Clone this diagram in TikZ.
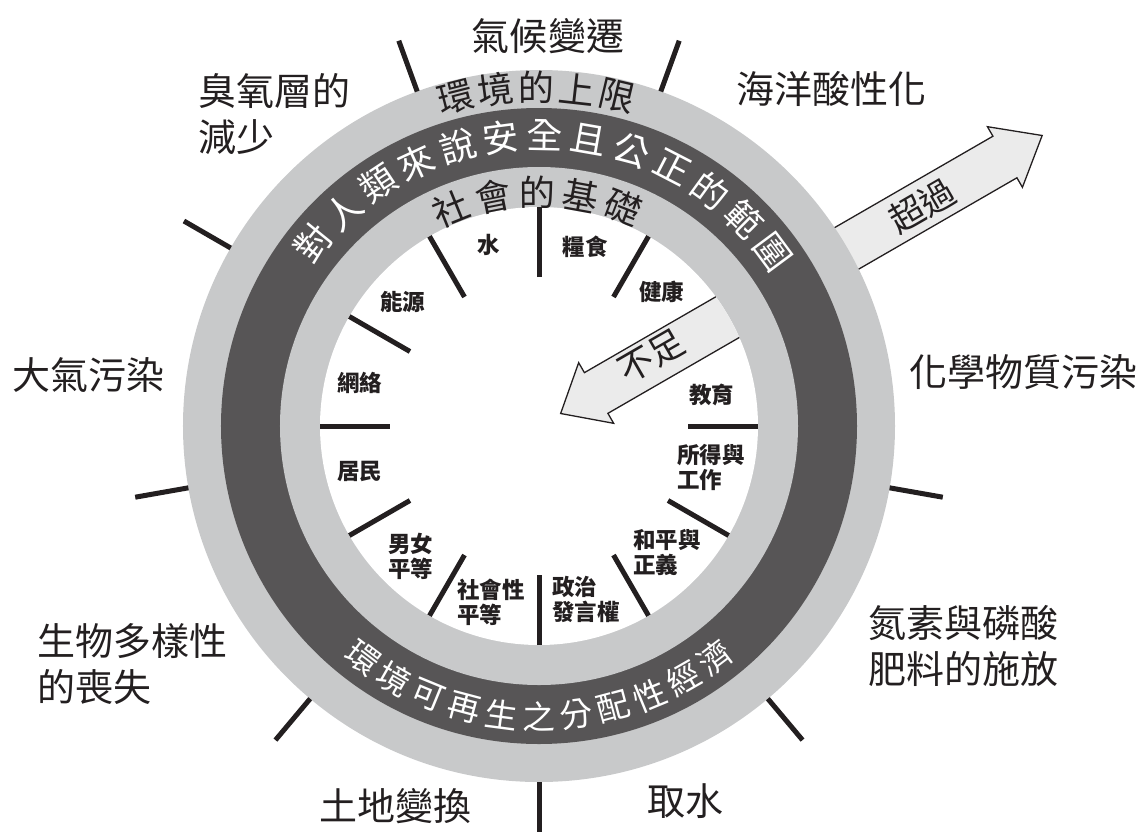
\documentclass[tikz,border=0pt]{standalone}
\usepackage{fontspec}
\newfontfamily\cjk{Noto Sans CJK TC}
\definecolor{ink}{HTML}{231F20}
\definecolor{ringlight}{HTML}{C8C9CA}
\definecolor{ringdark}{HTML}{575556}
\definecolor{arrowfill}{HTML}{EBEBEB}
\begin{document}
\begin{tikzpicture}[x=1pt,y=1pt,
  outerlbl/.style={font=\cjk\fontsize{38}{46}\selectfont, text=ink, inner sep=0pt, align=left},
  innerlbl/.style={font=\cjk\bfseries\fontsize{22.5}{25.5}\selectfont, text=ink, inner sep=0pt, align=left},
  tickline/.style={draw=ink, line width=5pt},
  ringtxt/.style={font=\cjk\fontsize{36}{36}\selectfont, inner sep=0pt},
  arrowtxt/.style={font=\cjk\fontsize{35}{35}\selectfont, text=ink, inner sep=0pt},
  bigarrow/.style={draw=ink, line width=1.3pt, fill=arrowfill, line join=miter},
]
\useasboundingbox (-539,-405) rectangle (603,426);
% exceed arrow (under the rings)
\begin{scope}[rotate=30]
  \draw[bigarrow] (330,24) -- (538,24) -- (538,35) -- (581,0) -- (538,-35) -- (538,-24) -- (330,-24) -- cycle;
  \node[arrowtxt, rotate=30] (over) at (442,-1) {超過};
\end{scope}
% rings
\fill[ringlight] (0,0) circle (356);
\fill[ringdark] (0,0) circle (318);
\fill[ringlight] (0,0) circle (259);
\fill[white] (0,0) circle (219);
% outer ticks
\foreach \a in {70,110,150,190,230,270,310,350}
  \draw[tickline] (\a:356) -- (\a:410);
% inner ticks
\foreach \a in {0,60,90,120,150,180,210,240,270,300,330}
  \draw[tickline] (\a:149) -- (\a:219);
% shortfall arrow
\begin{scope}[rotate=30]
  \begin{scope}
    \clip (0,0) circle (219);
    \fill[arrowfill] (235,23.5) -- (66,23.5) -- (66,35) -- (25,0) -- (66,-35) -- (66,-23.5) -- (235,-23.5) -- cycle;
  \end{scope}
  \draw[draw=ink, line width=1.3pt, line join=miter] (217.7,23.5) -- (66,23.5) -- (66,35) -- (25,0) -- (66,-35) -- (66,-23.5) -- (217.7,-23.5);
  \node[arrowtxt, rotate=30] (short) at (132,4) {不足};
\end{scope}
% ring texts
\foreach \c [count=\i from 0] in {環,境,的,上,限} {
  \pgfmathsetmacro\ang{104.3-\i*6.9}
  \node[ringtxt, text=ink, rotate=\ang-90] (ceil\i) at (\ang:339) {\c};
}
\foreach \c [count=\i from 0] in {對,人,類,來,說,安,全,且,公,正,的,範,圍} {
  \pgfmathsetmacro\ang{141-\i*8.7}
  \node[ringtxt, text=white, rotate=\ang-90] (safe\i) at (\ang:291) {\c};
}
\foreach \c [count=\i from 0] in {社,會,的,基,礎} {
  \pgfmathsetmacro\ang{112.1-\i*10.8}
  \node[ringtxt, text=ink, rotate=\ang-90] (found\i) at (\ang:234) {\c};
}
\foreach \c [count=\i from 0] in {環,境,可,再,生,之,分,配,性,經,濟} {
  \pgfmathsetmacro\ang{232.75+\i*7.45}
  \node[ringtxt, font=\cjk\fontsize{33}{33}\selectfont, text=white, rotate=\ang+90] (econ\i) at (\ang:291) {\c};
}
% outer labels
\node[outerlbl] (climate) at (9,389.5) {氣候變遷};
\node[outerlbl] (ocean) at (292,337.5) {海洋酸性化};
\node[outerlbl] (chem) at (484.5,54) {化學物質污染};
\node[outerlbl, anchor=west] (nitro) at (329,-220) {氮素與磷酸\\肥料的施放};
\node[outerlbl] (water) at (146,-375) {取水};
\node[outerlbl] (land) at (-143,-380) {土地變換};
\node[outerlbl, anchor=west] (bio) at (-502,-237.75) {生物多樣性\\的喪失};
\node[outerlbl] (air) at (-450,51) {大氣污染};
\node[outerlbl, anchor=west] (ozone) at (-341,311.5) {臭氧層的\\減少};
% inner labels
\node[innerlbl] (waterin) at (-50.7,181) {水};
\node[innerlbl] (food) at (46,179.3) {糧食};
\node[innerlbl] (health) at (122.7,134.3) {健康};
\node[innerlbl] (energy) at (-136,124.3) {能源};
\node[innerlbl] (network) at (-179,43) {網絡};
\node[innerlbl] (edu) at (172.7,31) {教育};
\node[innerlbl, anchor=west] (income) at (138,-41.5) {所得與\\工作};
\node[innerlbl] (housing) at (-179,-45.7) {居民};
\node[innerlbl, anchor=west] (gender) at (-151,-130.25) {男女\\平等};
\node[innerlbl, anchor=west] (social) at (-82,-176.5) {社會性\\平等};
\node[innerlbl, anchor=west] (voice) at (13,-173.5) {政治\\發言權};
\node[innerlbl, anchor=west] (peace) at (94,-126.5) {和平與\\正義};
\end{tikzpicture}
\end{document}
